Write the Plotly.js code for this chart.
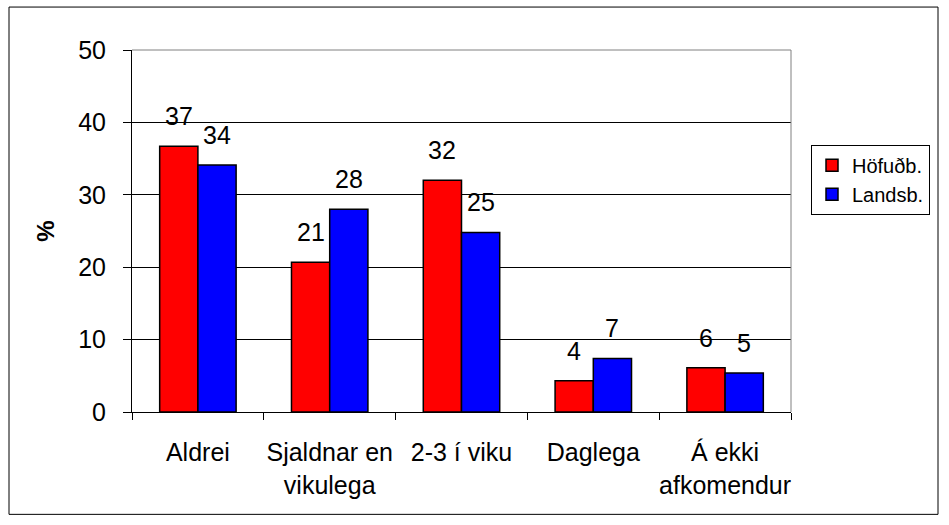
<!DOCTYPE html>
<html>
<head>
<meta charset="utf-8">
<script src="https://cdn.plot.ly/plotly-3.0.1.min.js"></script>
<style>
html,body{margin:0;padding:0;background:#fff;}
#chart{width:949px;height:525px;}
</style>
</head>
<body>
<div id="chart"></div>
<script>
const categories = ["Aldrei", "Sjaldnar en<br>vikulega", "2-3 í viku", "Daglega", "Á ekki<br>afkomendur"];
const seriesNames = ["Höfuðb.", "Landsb."];
const hofud = [36.7, 20.7, 32.0, 4.3, 6.1];
const lands = [34.1, 28.0, 24.8, 7.4, 5.4];
const yTicks = [0, 10, 20, 30, 40, 50];

const FONT = "Liberation Sans, Arial, sans-serif";
const FS = 25;

const traces = [
  {type: "bar", name: seriesNames[0], x: categories, y: hofud,
   marker: {color: "#FF0000", line: {color: "#000000", width: 1.5}}, hoverinfo: "skip"},
  {type: "bar", name: seriesNames[1], x: categories, y: lands,
   marker: {color: "#0000FF", line: {color: "#000000", width: 1.5}}, hoverinfo: "skip"}
];

const off = 0.145;
const annotations = [];
[hofud, lands].forEach((vals, s) => {
  vals.forEach((v, i) => {
    annotations.push({
      x: i + (s === 0 ? -off : off), y: v, xref: "x", yref: "y",
      text: String(Math.round(v)), showarrow: false,
      yanchor: "bottom", yshift: 14,
      font: {family: FONT, size: FS, color: "#000"}
    });
  });
});

const L = 132, R = 791, T = 50, B = 412.5, W = 949, H = 525;
const pw = R - L, ph = B - T;
function px(x){ return (x - L) / pw; }
function py(y){ return (B - y) / ph; }

const layout = {
  width: W, height: H,
  margin: {l: L, r: W - R, t: T, b: H - B, pad: 0},
  paper_bgcolor: "#fff", plot_bgcolor: "#fff",
  font: {family: FONT, size: FS, color: "#000"},
  barmode: "group", bargap: 0.42, bargroupgap: 0,
  showlegend: true,
  legend: {x: px(811), y: py(145), xanchor: "left", yanchor: "top",
           bordercolor: "#000", borderwidth: 1, bgcolor: "#fff",
           font: {family: FONT, size: 20, color: "#000"},
           tracegroupgap: 0, itemwidth: 30},
  xaxis: {type: "category", tickson: "boundaries", ticks: "outside", ticklen: 7,
          tickangle: 0, ticklabelstandoff: 18,
          tickcolor: "#000", showline: true, linecolor: "#000", linewidth: 1,
          showgrid: false, tickfont: {family: FONT, size: FS, color: "#000"},
          automargin: false, fixedrange: true},
  yaxis: {range: [0, 50], tickvals: yTicks, ticks: "outside", ticklen: 8,
          ticklabelstandoff: 12,
          tickcolor: "#000", showline: true, linecolor: "#000", linewidth: 1,
          showgrid: true, gridcolor: "#000", gridwidth: 1, zeroline: false,
          tickfont: {family: FONT, size: FS, color: "#000"},
          title: {text: "<b>%</b>", font: {family: FONT, size: 24, color: "#000"}, standoff: 16},
          automargin: false, fixedrange: true},
  shapes: [
    {type: "rect", xref: "paper", yref: "paper", x0: px(9), x1: px(938), y0: py(515), y1: py(7),
     line: {color: "#000", width: 1}, fillcolor: "rgba(0,0,0,0)", layer: "below"},
    {type: "line", xref: "paper", yref: "paper", x0: 0, x1: 1, y0: 1, y1: 1,
     line: {color: "#808080", width: 1}},
    {type: "line", xref: "paper", yref: "paper", x0: 1, x1: 1, y0: 0, y1: 1,
     line: {color: "#808080", width: 1}}
  ],
  annotations: annotations
};

Plotly.newPlot("chart", traces, layout, {displayModeBar: false, staticPlot: true});
</script>
</body>
</html>
